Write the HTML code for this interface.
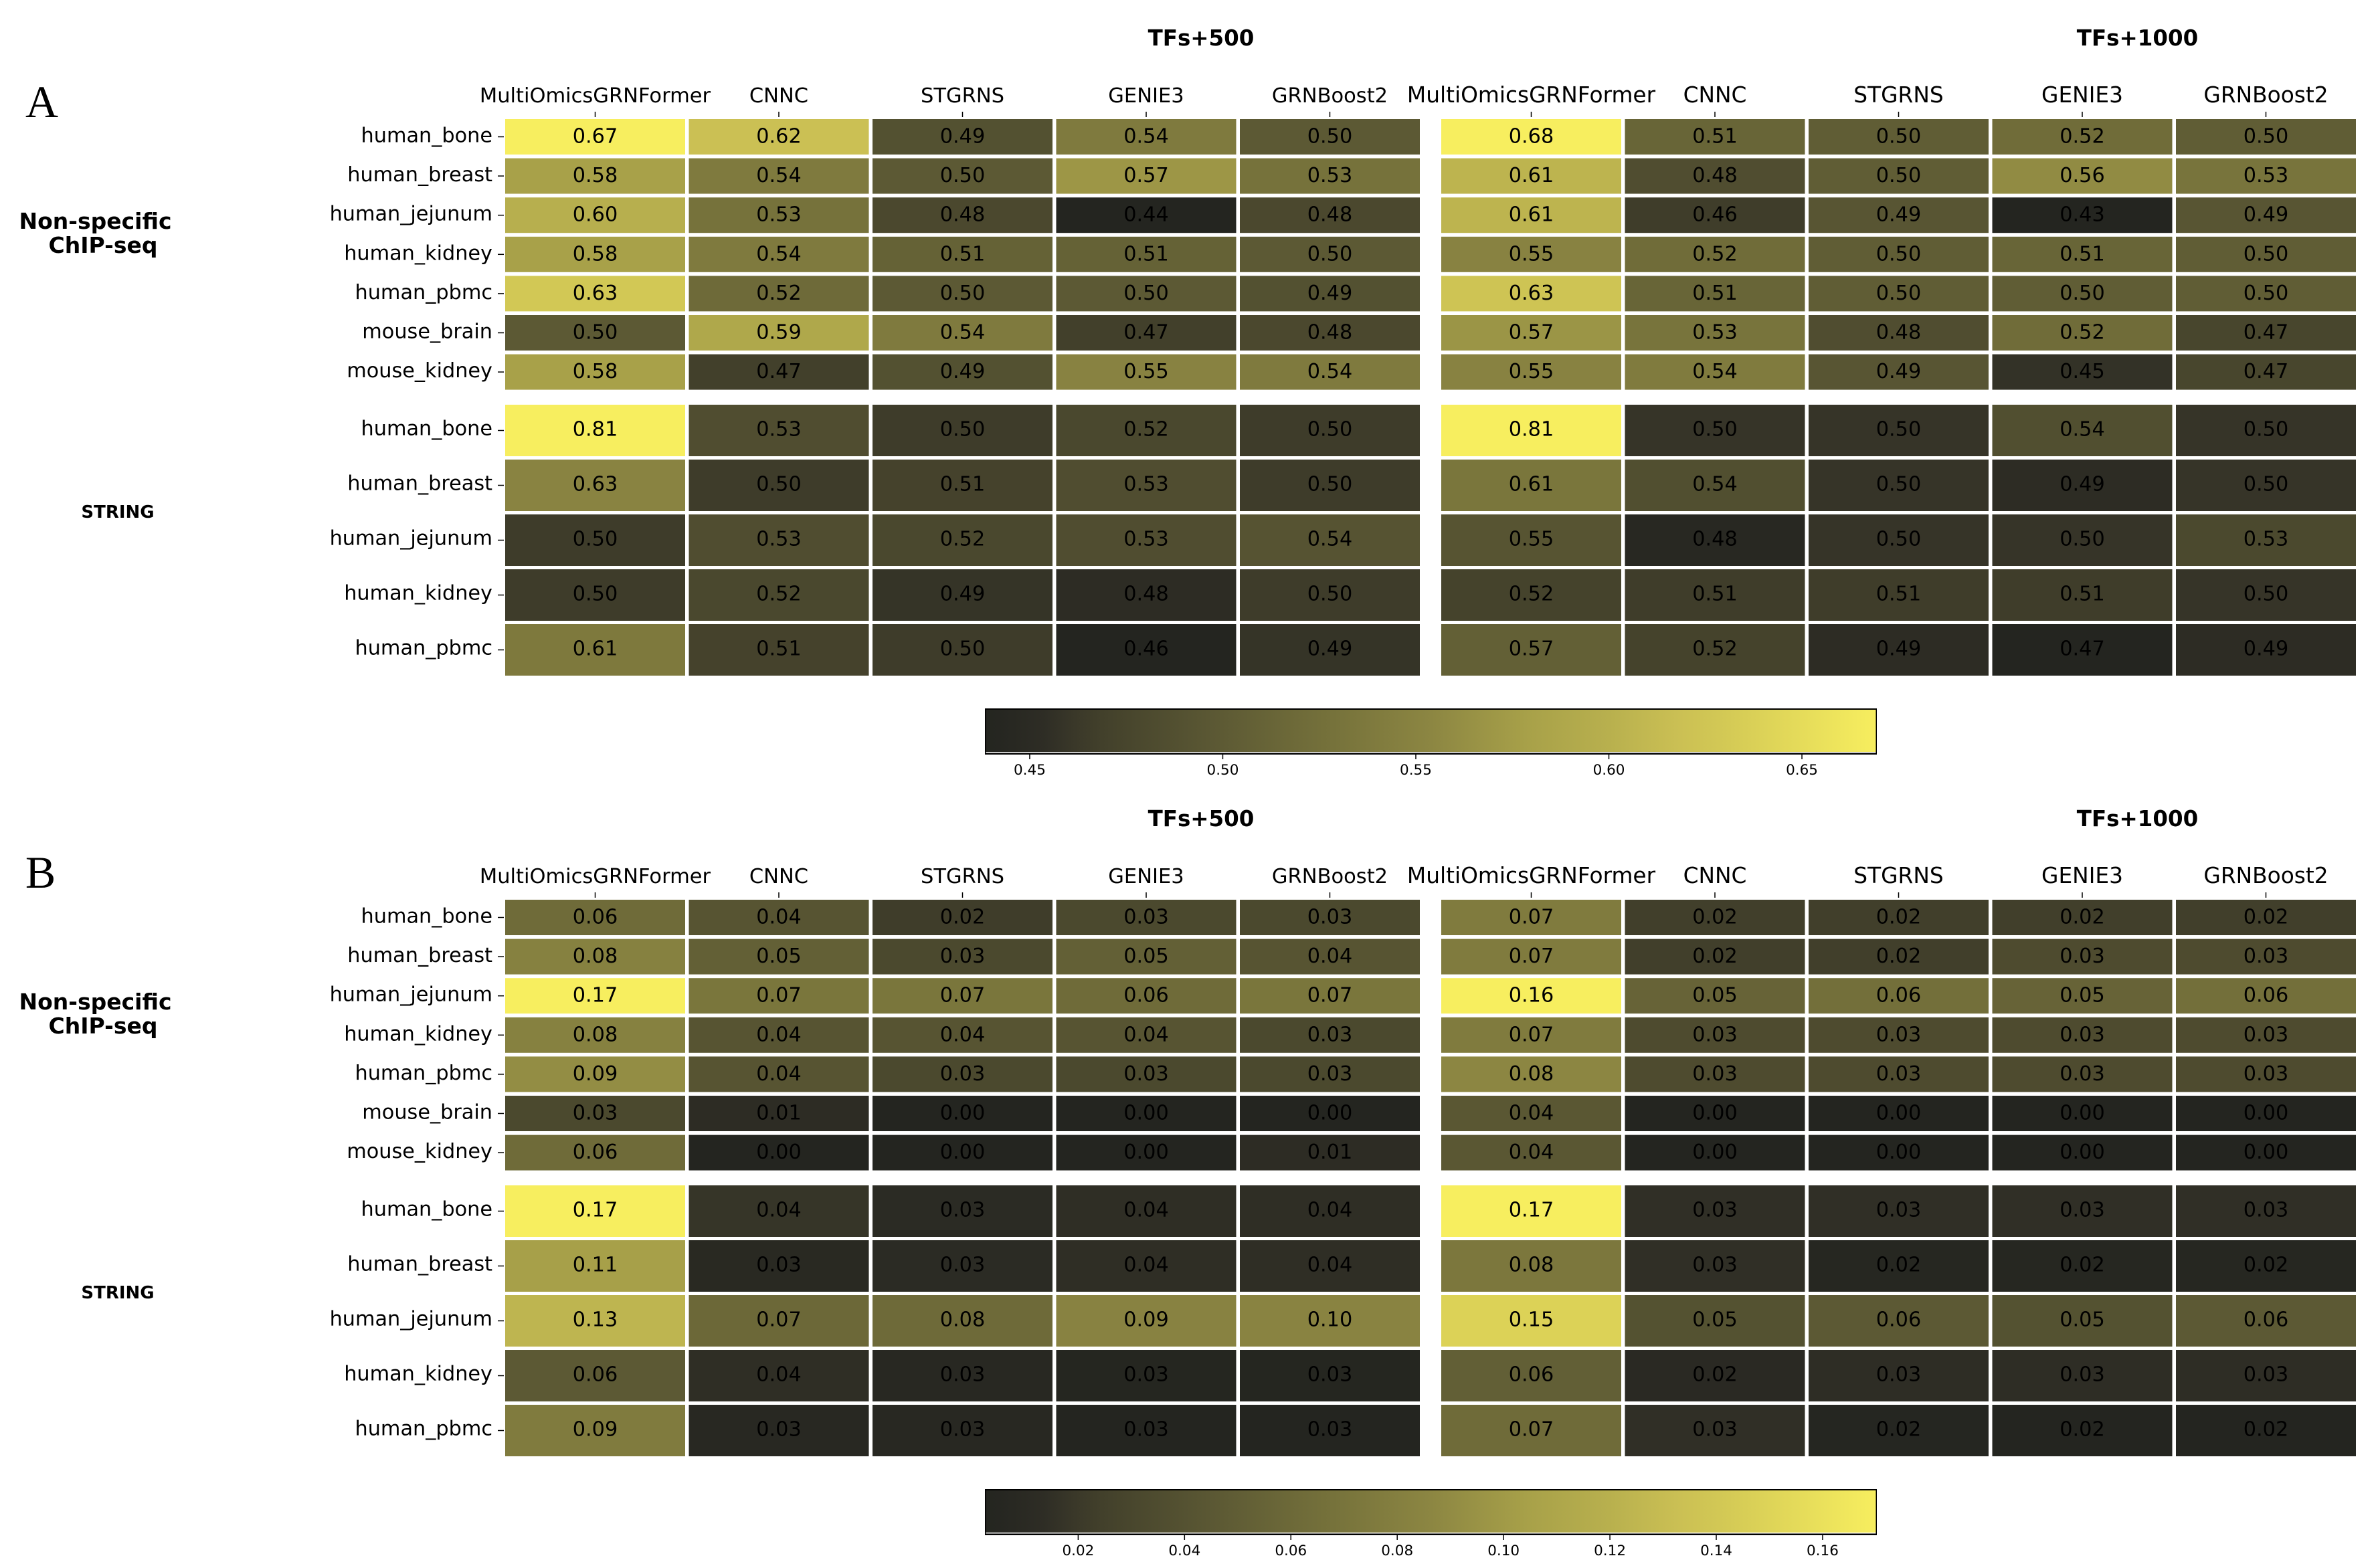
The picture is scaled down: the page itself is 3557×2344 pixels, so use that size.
<!DOCTYPE html>
<html lang="en">
<head>
<meta charset="utf-8">
<title>GRN heatmaps</title>
<style>
html,body{margin:0;padding:0;background:#fff;}
svg{display:block;}
text{font-family:"DejaVu Sans","Liberation Sans",sans-serif;fill:#000;}
</style>
</head>
<body>
<svg id="figure" xmlns="http://www.w3.org/2000/svg" width="3557" height="2344" viewBox="0 0 3557 2344">
<defs>
<linearGradient id="cmap-gradient" x1="0" y1="0" x2="1" y2="0"></linearGradient>
</defs>
<rect x="0" y="0" width="3557" height="2344" fill="#ffffff"/>
</svg>
<script>
const methods = ["MultiOmicsGRNFormer", "CNNC", "STGRNS", "GENIE3", "GRNBoost2"];
const rowsNonSpecific = ["human_bone", "human_breast", "human_jejunum", "human_kidney", "human_pbmc", "mouse_brain", "mouse_kidney"];
const rowsString = ["human_bone", "human_breast", "human_jejunum", "human_kidney", "human_pbmc"];

const aucNonSpecific500 = [
  [0.67, 0.62, 0.49, 0.54, 0.50],
  [0.58, 0.54, 0.50, 0.57, 0.53],
  [0.60, 0.53, 0.48, 0.44, 0.48],
  [0.58, 0.54, 0.51, 0.51, 0.50],
  [0.63, 0.52, 0.50, 0.50, 0.49],
  [0.50, 0.59, 0.54, 0.47, 0.48],
  [0.58, 0.47, 0.49, 0.55, 0.54]
];
const aucNonSpecific1000 = [
  [0.68, 0.51, 0.50, 0.52, 0.50],
  [0.61, 0.48, 0.50, 0.56, 0.53],
  [0.61, 0.46, 0.49, 0.43, 0.49],
  [0.55, 0.52, 0.50, 0.51, 0.50],
  [0.63, 0.51, 0.50, 0.50, 0.50],
  [0.57, 0.53, 0.48, 0.52, 0.47],
  [0.55, 0.54, 0.49, 0.45, 0.47]
];
const aucString500 = [
  [0.81, 0.53, 0.50, 0.52, 0.50],
  [0.63, 0.50, 0.51, 0.53, 0.50],
  [0.50, 0.53, 0.52, 0.53, 0.54],
  [0.50, 0.52, 0.49, 0.48, 0.50],
  [0.61, 0.51, 0.50, 0.46, 0.49]
];
const aucString1000 = [
  [0.81, 0.50, 0.50, 0.54, 0.50],
  [0.61, 0.54, 0.50, 0.49, 0.50],
  [0.55, 0.48, 0.50, 0.50, 0.53],
  [0.52, 0.51, 0.51, 0.51, 0.50],
  [0.57, 0.52, 0.49, 0.47, 0.49]
];
const auprcNonSpecific500 = [
  [0.06, 0.04, 0.02, 0.03, 0.03],
  [0.08, 0.05, 0.03, 0.05, 0.04],
  [0.17, 0.07, 0.07, 0.06, 0.07],
  [0.08, 0.04, 0.04, 0.04, 0.03],
  [0.09, 0.04, 0.03, 0.03, 0.03],
  [0.03, 0.01, 0.00, 0.00, 0.00],
  [0.06, 0.00, 0.00, 0.00, 0.01]
];
const auprcNonSpecific1000 = [
  [0.07, 0.02, 0.02, 0.02, 0.02],
  [0.07, 0.02, 0.02, 0.03, 0.03],
  [0.16, 0.05, 0.06, 0.05, 0.06],
  [0.07, 0.03, 0.03, 0.03, 0.03],
  [0.08, 0.03, 0.03, 0.03, 0.03],
  [0.04, 0.00, 0.00, 0.00, 0.00],
  [0.04, 0.00, 0.00, 0.00, 0.00]
];
const auprcString500 = [
  [0.17, 0.038, 0.032, 0.035, 0.035],
  [0.113, 0.030, 0.032, 0.035, 0.035],
  [0.13, 0.074, 0.0755, 0.0945, 0.0955],
  [0.063, 0.035, 0.029, 0.026, 0.026],
  [0.089, 0.029, 0.029, 0.025, 0.025]
];
const auprcString1000 = [
  [0.17, 0.026, 0.026, 0.026, 0.026],
  [0.08, 0.026, 0.018, 0.018, 0.018],
  [0.15, 0.0495, 0.0555, 0.0495, 0.0555],
  [0.06, 0.0213, 0.0252, 0.0252, 0.025],
  [0.07, 0.026, 0.0166, 0.0155, 0.0151]
];

const colorbarTicksA = [0.45, 0.50, 0.55, 0.60, 0.65];
const colorbarTicksB = [0.02, 0.04, 0.06, 0.08, 0.10, 0.12, 0.14, 0.16];
const colorbarDomainA = [0.4384, 0.6694];
const colorbarDomainB = [0.00246, 0.1702];

const cmapStops = [
  [0.00, 36, 37, 32],
  [0.03, 40, 40, 34],
  [0.065, 46, 45, 37],
  [0.10, 58, 56, 41],
  [0.13, 66, 64, 43],
  [0.26, 92, 89, 52],
  [0.39, 118, 114, 59],
  [0.50, 140, 134, 66],
  [0.61, 168, 161, 73],
  [0.70, 184, 176, 78],
  [0.78, 203, 192, 84],
  [0.83, 211, 201, 85],
  [1.00, 247, 238, 95]
];

const SVGNS = "http://www.w3.org/2000/svg";
const svg = document.getElementById("figure");

function cmap(t) {
  t = Math.max(0, Math.min(1, t));
  for (let i = 1; i < cmapStops.length; i++) {
    const a = cmapStops[i - 1], b = cmapStops[i];
    if (t <= b[0]) {
      const f = (t - a[0]) / (b[0] - a[0]);
      const c = [1, 2, 3].map(function (k) { return Math.round(a[k] + (b[k] - a[k]) * f); });
      return "rgb(" + c.join(",") + ")";
    }
  }
  return "rgb(247,238,95)";
}

function make(tag, attrs, parent) {
  const el = document.createElementNS(SVGNS, tag);
  for (const k in attrs) { el.setAttribute(k, attrs[k]); }
  (parent || svg).appendChild(el);
  return el;
}

function label(x, y, str, size, anchor, weight, parent) {
  const t = make("text", {
    x: x, y: y, "font-size": size, "text-anchor": anchor, "font-weight": weight || "normal"
  }, parent);
  t.textContent = str;
  return t;
}

const grad = document.getElementById("cmap-gradient");
cmapStops.forEach(function (s) {
  const st = document.createElementNS(SVGNS, "stop");
  st.setAttribute("offset", s[0]);
  st.setAttribute("stop-color", "rgb(" + s[1] + "," + s[2] + "," + s[3] + ")");
  grad.appendChild(st);
});

const PITCH_X = 274.5;
const CELL_W = 269;
const LEFT_X = 755;
const RIGHT_X = 2154;

function colX(panelX, i) { return panelX + i * PITCH_X; }

function drawHeatmap(name, values, rows, panelX, top, pitchY, cellH, showRows) {
  const g = make("g", {});
  
  
  const flat = values.reduce(function (a, r) { return a.concat(r); }, []);
  const vmin = Math.min.apply(null, flat);
  const vmax = Math.max.apply(null, flat);
  const span = (vmax - vmin) || 1;
  const labelDy = cellH > 60 ? 7 : 8;
  const valueDy = cellH > 60 ? 8 : 9;
  values.forEach(function (row, r) {
    const y = top + r * pitchY;
    if (showRows) {
      const tick = make("rect", { x: 744, y: y + cellH / 2 - 0.75, width: 9, height: 1.5, fill: "#000" }, g);
      
      
      const rl = label(736, y + cellH / 2 + labelDy, rows[r], 30.3, "end", "normal", g);
      
      
    }
    row.forEach(function (v, c) {
      const x = colX(panelX, c);
      const cell = make("rect", {
        x: x, y: y, width: CELL_W, height: cellH, fill: cmap((v - vmin) / span)
      }, g);
      
      
      const txt = label(x + CELL_W / 2, y + cellH / 2 + valueDy, v.toFixed(2), 30.3, "middle", "normal", g);
      
      
    });
  });
}

function drawColumnHeader(panelX, top, size) {
  methods.forEach(function (m, c) {
    const cx = colX(panelX, c) + CELL_W / 2;
    const tick = make("rect", { x: cx - 0.75, y: top - 11, width: 1.5, height: 8, fill: "#000" });
    
    
    const t = label(cx, top - 25, m, size, "middle");
    
    
  });
}

function drawColorbar(name, domain, ticks, top, decimals) {
  const x0 = 1472, x1 = 2805, h = 69;
  const g = make("g", {});
  
  
  make("rect", { x: x0, y: top, width: x1 - x0, height: h, fill: "#000" }, g);
  make("rect", { x: x0 + 1.5, y: top + 2, width: x1 - x0 - 3, height: h - 6, fill: "url(#cmap-gradient)" }, g);
  make("rect", { x: x0 + 1.5, y: top + h - 4, width: x1 - x0 - 3, height: 1.5, fill: "#fff" }, g);
  const scale = function (v) { return x0 + (v - domain[0]) / (domain[1] - domain[0]) * (x1 - x0); };
  ticks.forEach(function (v) {
    const tick = make("rect", { x: scale(v) - 0.75, y: top + h, width: 1.5, height: 7, fill: "#000" }, g);
    
    
    const t = label(scale(v), top + h + 30, v.toFixed(decimals), 21.5, "middle", "normal", g);
    
    
  });
}

function drawPanel(letter, letterX, letterY, offset, ns500, ns1000, st500, st1000, domain, ticks) {
  const nsTop = 178 + offset, stTop = 605 + offset;
  const nsPitch = 58.6, nsH = 53, stPitch = 82, stH = 77;

  const l = make("text", {
    x: letterX, y: letterY, "font-size": 68, "text-anchor": "middle",
    style: 'font-family:"Liberation Serif",serif'
  });
  l.textContent = letter;
  
  

  const t500 = label(1795, 68 + offset, "TFs+500", 32.5, "middle", "bold");
  
  
  const t1000 = label(3194.5, 68 + offset, "TFs+1000", 32.5, "middle", "bold");
  
  

  const n1 = label(142.5, 342 + offset, "Non-specific", 33, "middle", "bold");
  
  
  const n2 = label(154, 378 + offset, "ChIP-seq", 33, "middle", "bold");
  
  
  const s = label(176, 774 + offset, "STRING", 26, "middle", "bold");
  
  

  drawColumnHeader(LEFT_X, nsTop, 30.5);
  drawColumnHeader(RIGHT_X, nsTop, 32.8);
  drawHeatmap("heatmap-non-specific-500", ns500, rowsNonSpecific, LEFT_X, nsTop, nsPitch, nsH, true);
  drawHeatmap("heatmap-non-specific-1000", ns1000, rowsNonSpecific, RIGHT_X, nsTop, nsPitch, nsH, false);
  drawHeatmap("heatmap-string-500", st500, rowsString, LEFT_X, stTop, stPitch, stH, true);
  drawHeatmap("heatmap-string-1000", st1000, rowsString, RIGHT_X, stTop, stPitch, stH, false);
  drawColorbar("colorbar", domain, ticks, 1059 + offset, 2);
}

drawPanel("A", 62.5, 175, 0, aucNonSpecific500, aucNonSpecific1000, aucString500, aucString1000, colorbarDomainA, colorbarTicksA);
drawPanel("B", 60.5, 1327, 1167, auprcNonSpecific500, auprcNonSpecific1000, auprcString500, auprcString1000, colorbarDomainB, colorbarTicksB);
</script>
</body>
</html>
